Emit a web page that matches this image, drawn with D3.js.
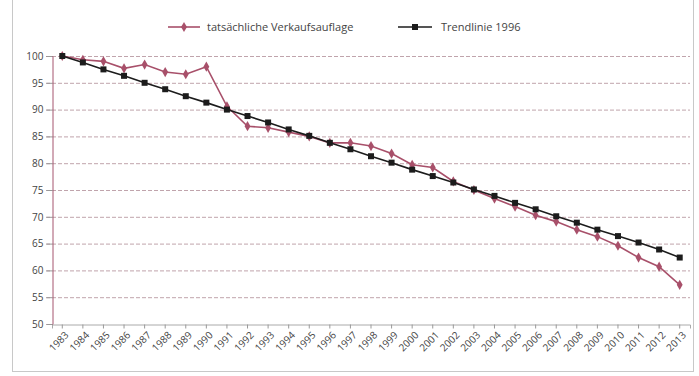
<!DOCTYPE html>
<html><head><meta charset="utf-8">
<script src="https://cdn.jsdelivr.net/npm/d3@7"></script>
<style>body{margin:0;background:#fff}svg{display:block}text{font-family:"Open Sans","Liberation Sans",sans-serif}</style>
</head><body><svg id="c" width="699" height="376"></svg>
<script>
const years = ["1983","1984","1985","1986","1987","1988","1989","1990","1991","1992","1993","1994","1995","1996","1997","1998","1999","2000","2001","2002","2003","2004","2005","2006","2007","2008","2009","2010","2011","2012","2013"];
const actual = [100,99.3,99.0,97.7,98.4,97.0,96.6,98.0,90.6,86.9,86.6,85.8,85.0,83.8,83.8,83.2,81.8,79.7,79.2,76.6,75.0,73.4,71.9,70.3,69.1,67.6,66.3,64.6,62.4,60.7,57.3];
const trend = [100,98.8,97.5,96.3,95.0,93.8,92.5,91.3,90.0,88.8,87.6,86.3,85.1,83.8,82.6,81.3,80.1,78.8,77.6,76.4,75.1,73.9,72.6,71.4,70.1,68.9,67.6,66.4,65.2,63.9,62.4];
const yTicks = [50,55,60,65,70,75,80,85,90,95,100];
const seriesNames = ["tatsächliche Verkaufsauflage","Trendlinie 1996"];

const svg = d3.select("#c");
const L = 52, R = 690, T = 56, B = 324;
const x = d3.scaleBand().domain(years).range([L, R]);
const cx = d => x(d) + x.bandwidth()/2;
const y = d3.scaleLinear().domain([50,100]).range([B, T]);

// frame
svg.append("rect").attr("x",12.5).attr("y",-1).attr("width",681).attr("height",372.5)
  .attr("fill","none").attr("stroke","#c8c8c8");

// grid
svg.append("g").selectAll("line").data(yTicks.filter(v=>v>50)).join("line")
  .attr("x1",L-6).attr("x2",R).attr("y1",d=>y(d)+0.5).attr("y2",d=>y(d)+0.5)
  .attr("stroke","#c0a4ac").attr("stroke-dasharray","4,2").attr("stroke-width",1);

// y axis
const ya = svg.append("g").attr("transform",`translate(${L+0.5},0)`)
  .call(d3.axisLeft(y).tickValues(yTicks).tickSize(6).tickPadding(3));
ya.select(".domain").attr("stroke","#a5556e");
ya.selectAll(".tick line").attr("stroke","#999");
ya.selectAll("text").attr("font-size",10).attr("fill","#444");

// x axis
const xa = svg.append("g").attr("transform",`translate(0,${B+0.5})`)
  .call(d3.axisBottom(x).tickSize(4).tickPadding(3));
xa.select(".domain").attr("stroke","#aaa");
xa.selectAll(".tick line").attr("stroke","#999");
xa.selectAll("text").attr("font-size",10).attr("fill","#444")
  .attr("text-anchor","end").attr("dx","-0.3em").attr("dy","0.6em")
  .attr("transform","rotate(-45)");

// lines
const redC = "#a8506a", blkC = "#1c1c1c";
const line = d3.line().x((d,i)=>cx(years[i])).y(d=>y(d));
svg.append("path").datum(actual).attr("d",line).attr("fill","none").attr("stroke",redC).attr("stroke-width",1.6);
svg.append("path").datum(trend).attr("d",line).attr("fill","none").attr("stroke",blkC).attr("stroke-width",1.6);
svg.append("g").selectAll("path").data(actual).join("path")
  .attr("d",d3.symbol(d3.symbolDiamond,30)())
  .attr("transform",(d,i)=>`translate(${cx(years[i])},${y(d)})`).attr("fill",redC);
svg.append("g").selectAll("rect").data(trend).join("rect")
  .attr("x",(d,i)=>cx(years[i])-3).attr("y",d=>y(d)-3).attr("width",6).attr("height",6).attr("fill",blkC);

// legend
const lg = svg.append("g");
lg.append("line").attr("x1",168).attr("x2",200).attr("y1",27).attr("y2",27).attr("stroke",redC).attr("stroke-width",1.6);
lg.append("path").attr("d",d3.symbol(d3.symbolDiamond,30)()).attr("transform","translate(184,27)").attr("fill",redC);
lg.append("text").attr("x",207).attr("y",31).attr("font-size",11).attr("fill","#444").text(seriesNames[0]);
lg.append("line").attr("x1",398).attr("x2",432).attr("y1",27).attr("y2",27).attr("stroke",blkC).attr("stroke-width",1.6);
lg.append("rect").attr("x",412).attr("y",24).attr("width",6).attr("height",6).attr("fill",blkC);
lg.append("text").attr("x",441).attr("y",31).attr("font-size",11).attr("fill","#444").text(seriesNames[1]);
</script></body></html>
